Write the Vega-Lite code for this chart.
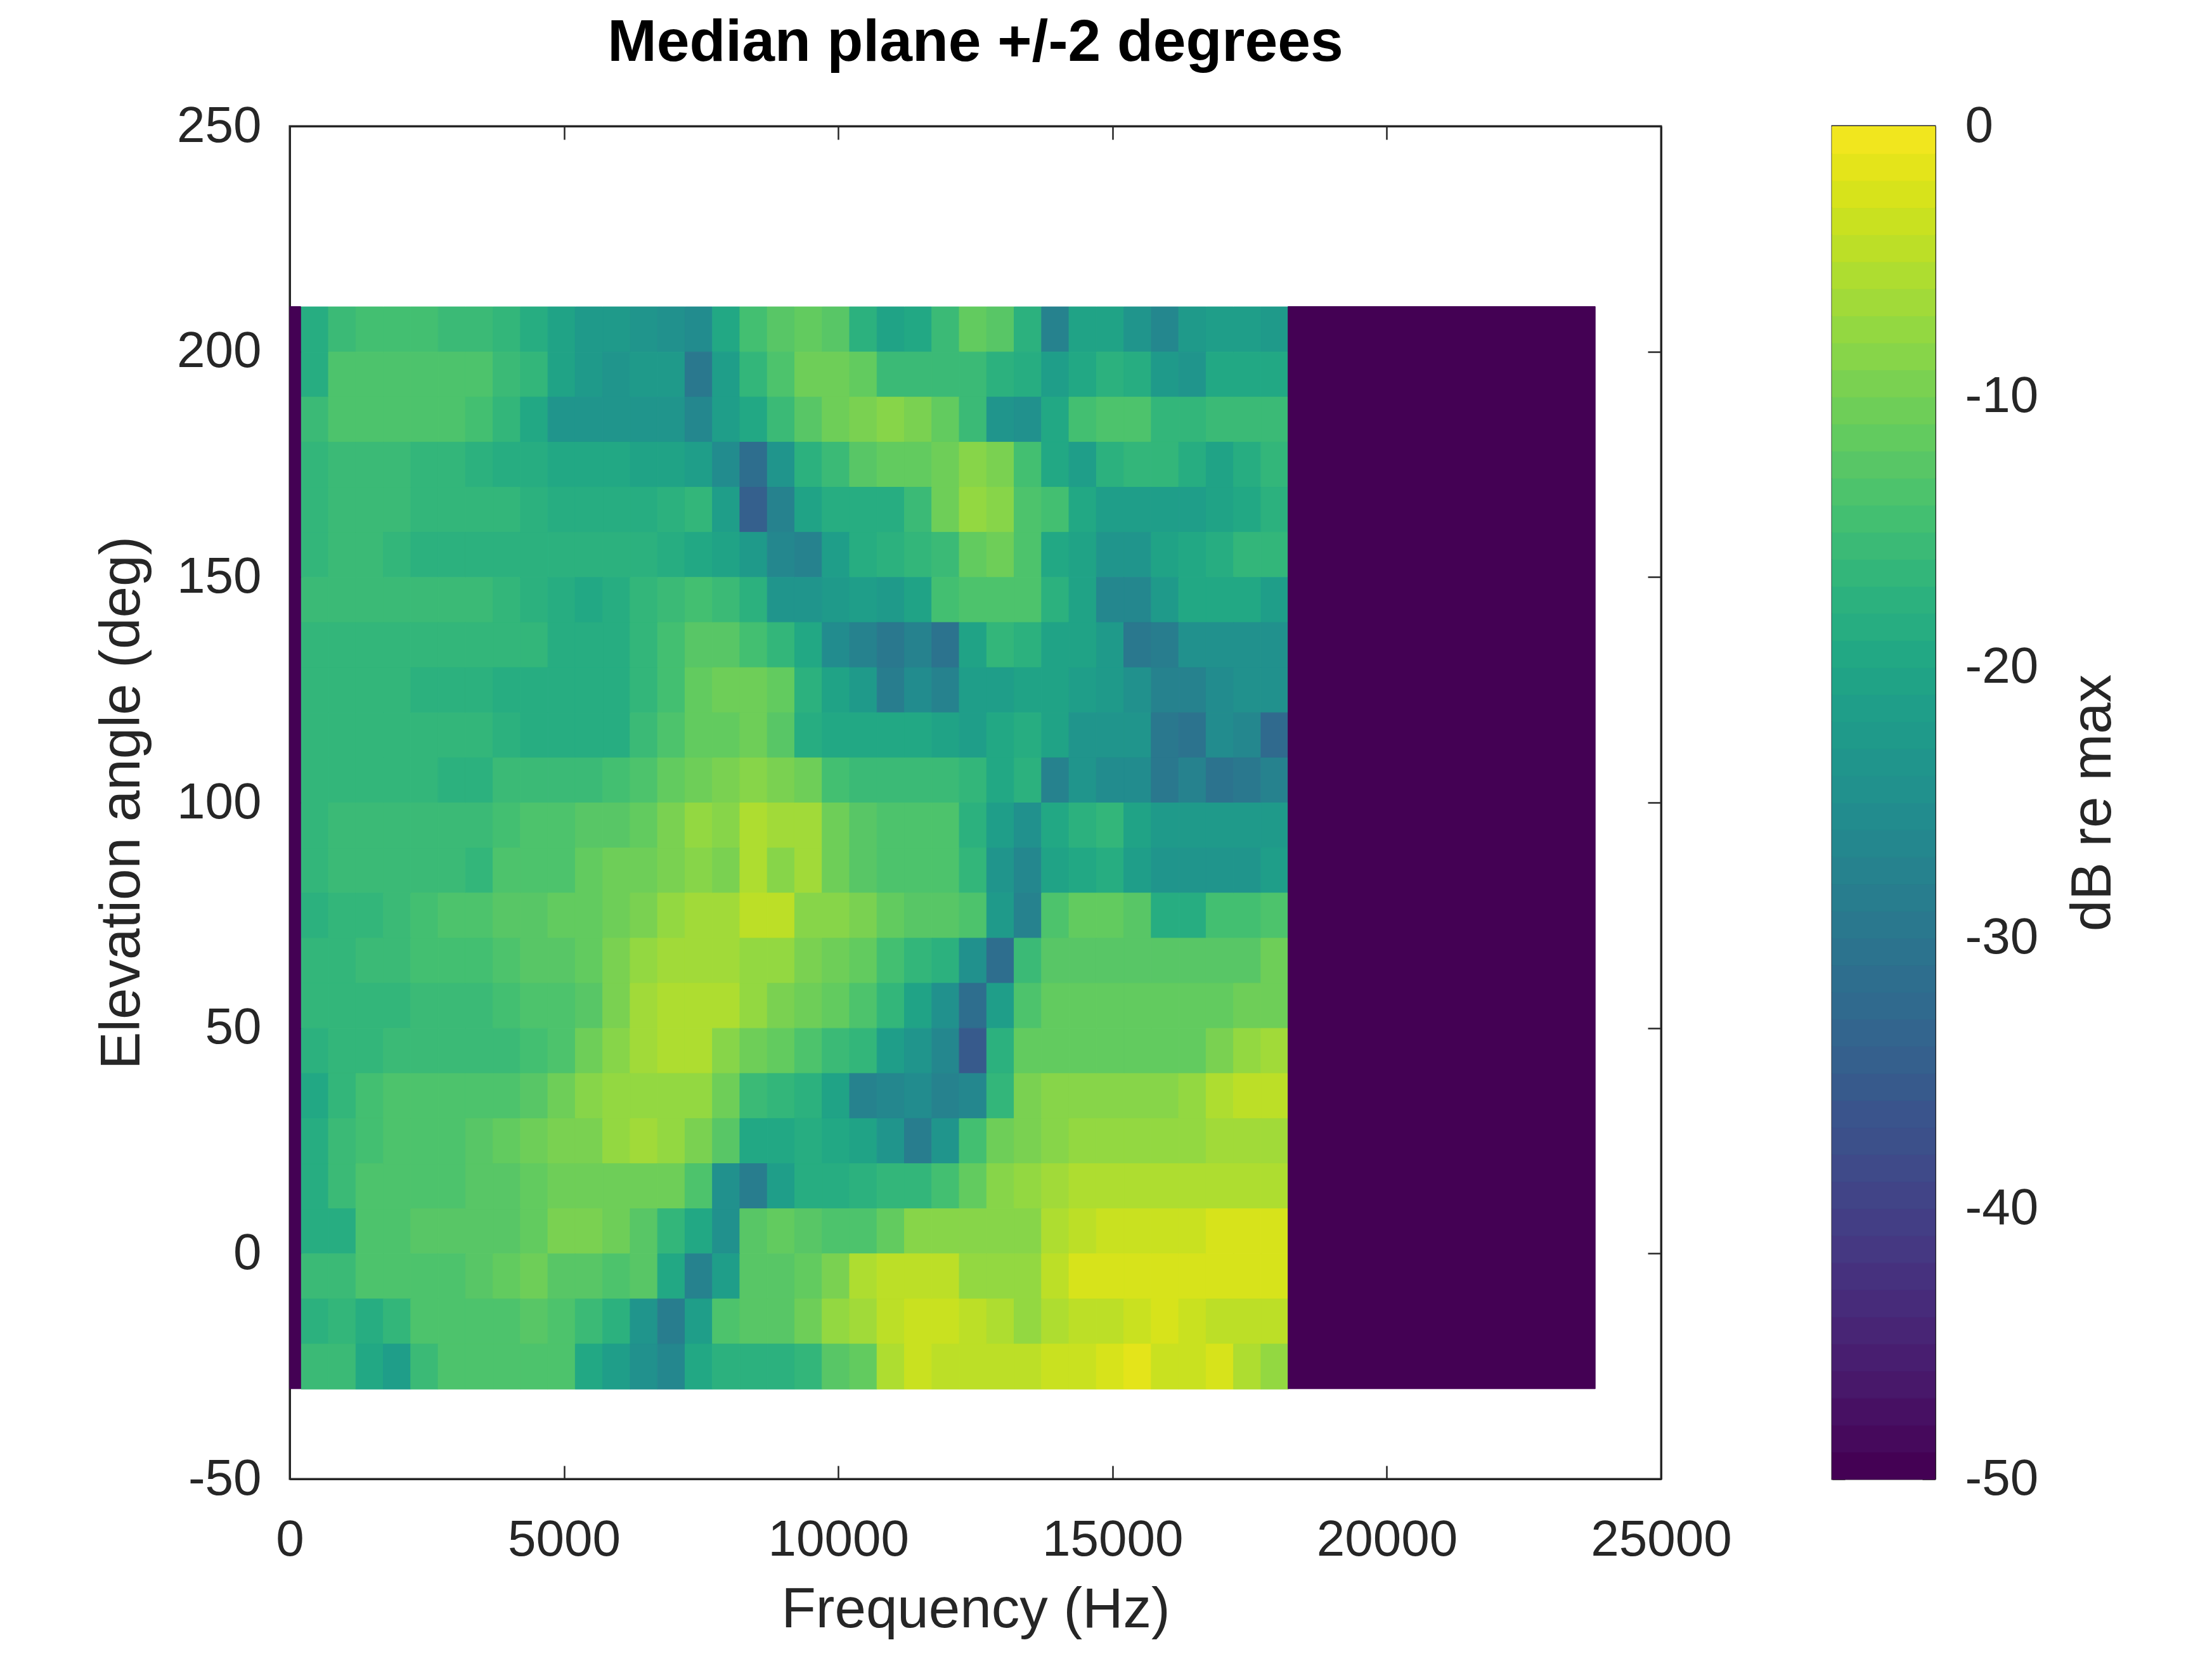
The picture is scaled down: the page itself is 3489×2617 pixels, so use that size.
{
  "$schema": "https://vega.github.io/schema/vega-lite/v6.json",
  "background": "white",
  "padding": {"left": 146, "top": 20, "right": 0, "bottom": 0},
  "bounds": "flush",
  "spacing": 270,
  "config": {
    "font": "Liberation Sans",
    "view": {"stroke": "#262626", "strokeWidth": 3},
    "axis": {
      "labelFont": "Liberation Sans",
      "labelFontSize": 80,
      "labelColor": "#262626",
      "labelLimit": 0,
      "labelExpr": "'' + datum.value",
      "titleFont": "Liberation Sans",
      "titleFontSize": 89,
      "titleFontWeight": "normal",
      "titleColor": "#262626",
      "tickColor": "#262626",
      "tickWidth": 2.5,
      "domainColor": "#262626",
      "domainWidth": 3,
      "grid": false,
      "zindex": 1,
      "labelFlush": false,
      "labelOverlap": false
    }
  },
  "hconcat": [
    {
      "width": 2163,
      "height": 2134,
      "title": {
        "text": "Median plane +/-2 degrees",
        "font": "Liberation Sans",
        "fontSize": 93,
        "fontWeight": "bold",
        "color": "black",
        "baseline": "alphabetic",
        "anchor": "middle",
        "offset": -30
      },
      "layer": [
        {
          "data": {"values": [
{"f":200,"e":200,"v":-19},{"f":700,"e":200,"v":-16},{"f":1200,"e":200,"v":-15},{"f":1700,"e":200,"v":-15},{"f":2200,"e":200,"v":-15},{"f":2700,"e":200,"v":-16},{"f":3200,"e":200,"v":-16},{"f":3700,"e":200,"v":-17},{"f":4200,"e":200,"v":-19},{"f":4700,"e":200,"v":-21},{"f":5200,"e":200,"v":-23},{"f":5700,"e":200,"v":-23},{"f":6200,"e":200,"v":-24},{"f":6700,"e":200,"v":-25},{"f":7200,"e":200,"v":-26},{"f":7700,"e":200,"v":-20},{"f":8200,"e":200,"v":-15},{"f":8700,"e":200,"v":-13},{"f":9200,"e":200,"v":-12},{"f":9700,"e":200,"v":-13},{"f":10200,"e":200,"v":-18},{"f":10700,"e":200,"v":-21},{"f":11200,"e":200,"v":-20},{"f":11700,"e":200,"v":-16},{"f":12200,"e":200,"v":-12},{"f":12700,"e":200,"v":-13},{"f":13200,"e":200,"v":-18},{"f":13700,"e":200,"v":-28},{"f":14200,"e":200,"v":-21},{"f":14700,"e":200,"v":-21},{"f":15200,"e":200,"v":-24},{"f":15700,"e":200,"v":-27},{"f":16200,"e":200,"v":-23},{"f":16700,"e":200,"v":-22},{"f":17200,"e":200,"v":-22},{"f":17700,"e":200,"v":-23},
{"f":200,"e":190,"v":-19},{"f":700,"e":190,"v":-14},{"f":1200,"e":190,"v":-14},{"f":1700,"e":190,"v":-14},{"f":2200,"e":190,"v":-14},{"f":2700,"e":190,"v":-14},{"f":3200,"e":190,"v":-14},{"f":3700,"e":190,"v":-16},{"f":4200,"e":190,"v":-17},{"f":4700,"e":190,"v":-21},{"f":5200,"e":190,"v":-23},{"f":5700,"e":190,"v":-24},{"f":6200,"e":190,"v":-23},{"f":6700,"e":190,"v":-23},{"f":7200,"e":190,"v":-30},{"f":7700,"e":190,"v":-22},{"f":8200,"e":190,"v":-17},{"f":8700,"e":190,"v":-14},{"f":9200,"e":190,"v":-11},{"f":9700,"e":190,"v":-11},{"f":10200,"e":190,"v":-12},{"f":10700,"e":190,"v":-16},{"f":11200,"e":190,"v":-16},{"f":11700,"e":190,"v":-16},{"f":12200,"e":190,"v":-16},{"f":12700,"e":190,"v":-18},{"f":13200,"e":190,"v":-19},{"f":13700,"e":190,"v":-22},{"f":14200,"e":190,"v":-20},{"f":14700,"e":190,"v":-18},{"f":15200,"e":190,"v":-19},{"f":15700,"e":190,"v":-23},{"f":16200,"e":190,"v":-24},{"f":16700,"e":190,"v":-20},{"f":17200,"e":190,"v":-20},{"f":17700,"e":190,"v":-20},
{"f":200,"e":180,"v":-16},{"f":700,"e":180,"v":-14},{"f":1200,"e":180,"v":-14},{"f":1700,"e":180,"v":-14},{"f":2200,"e":180,"v":-14},{"f":2700,"e":180,"v":-14},{"f":3200,"e":180,"v":-15},{"f":3700,"e":180,"v":-17},{"f":4200,"e":180,"v":-20},{"f":4700,"e":180,"v":-24},{"f":5200,"e":180,"v":-24},{"f":5700,"e":180,"v":-24},{"f":6200,"e":180,"v":-24},{"f":6700,"e":180,"v":-24},{"f":7200,"e":180,"v":-27},{"f":7700,"e":180,"v":-22},{"f":8200,"e":180,"v":-20},{"f":8700,"e":180,"v":-16},{"f":9200,"e":180,"v":-13},{"f":9700,"e":180,"v":-11},{"f":10200,"e":180,"v":-10},{"f":10700,"e":180,"v":-9},{"f":11200,"e":180,"v":-10},{"f":11700,"e":180,"v":-12},{"f":12200,"e":180,"v":-16},{"f":12700,"e":180,"v":-24},{"f":13200,"e":180,"v":-25},{"f":13700,"e":180,"v":-20},{"f":14200,"e":180,"v":-15},{"f":14700,"e":180,"v":-14},{"f":15200,"e":180,"v":-14},{"f":15700,"e":180,"v":-17},{"f":16200,"e":180,"v":-17},{"f":16700,"e":180,"v":-16},{"f":17200,"e":180,"v":-16},{"f":17700,"e":180,"v":-16},
{"f":200,"e":170,"v":-17},{"f":700,"e":170,"v":-16},{"f":1200,"e":170,"v":-16},{"f":1700,"e":170,"v":-16},{"f":2200,"e":170,"v":-17},{"f":2700,"e":170,"v":-17},{"f":3200,"e":170,"v":-18},{"f":3700,"e":170,"v":-19},{"f":4200,"e":170,"v":-19},{"f":4700,"e":170,"v":-20},{"f":5200,"e":170,"v":-20},{"f":5700,"e":170,"v":-20},{"f":6200,"e":170,"v":-21},{"f":6700,"e":170,"v":-21},{"f":7200,"e":170,"v":-22},{"f":7700,"e":170,"v":-26},{"f":8200,"e":170,"v":-32},{"f":8700,"e":170,"v":-24},{"f":9200,"e":170,"v":-18},{"f":9700,"e":170,"v":-16},{"f":10200,"e":170,"v":-13},{"f":10700,"e":170,"v":-12},{"f":11200,"e":170,"v":-12},{"f":11700,"e":170,"v":-11},{"f":12200,"e":170,"v":-9},{"f":12700,"e":170,"v":-10},{"f":13200,"e":170,"v":-15},{"f":13700,"e":170,"v":-20},{"f":14200,"e":170,"v":-22},{"f":14700,"e":170,"v":-18},{"f":15200,"e":170,"v":-17},{"f":15700,"e":170,"v":-17},{"f":16200,"e":170,"v":-19},{"f":16700,"e":170,"v":-21},{"f":17200,"e":170,"v":-19},{"f":17700,"e":170,"v":-17},
{"f":200,"e":160,"v":-17},{"f":700,"e":160,"v":-16},{"f":1200,"e":160,"v":-16},{"f":1700,"e":160,"v":-16},{"f":2200,"e":160,"v":-17},{"f":2700,"e":160,"v":-17},{"f":3200,"e":160,"v":-17},{"f":3700,"e":160,"v":-17},{"f":4200,"e":160,"v":-18},{"f":4700,"e":160,"v":-19},{"f":5200,"e":160,"v":-19},{"f":5700,"e":160,"v":-19},{"f":6200,"e":160,"v":-19},{"f":6700,"e":160,"v":-18},{"f":7200,"e":160,"v":-17},{"f":7700,"e":160,"v":-22},{"f":8200,"e":160,"v":-35},{"f":8700,"e":160,"v":-28},{"f":9200,"e":160,"v":-21},{"f":9700,"e":160,"v":-19},{"f":10200,"e":160,"v":-19},{"f":10700,"e":160,"v":-19},{"f":11200,"e":160,"v":-16},{"f":11700,"e":160,"v":-11},{"f":12200,"e":160,"v":-8},{"f":12700,"e":160,"v":-9},{"f":13200,"e":160,"v":-14},{"f":13700,"e":160,"v":-15},{"f":14200,"e":160,"v":-20},{"f":14700,"e":160,"v":-22},{"f":15200,"e":160,"v":-22},{"f":15700,"e":160,"v":-22},{"f":16200,"e":160,"v":-22},{"f":16700,"e":160,"v":-21},{"f":17200,"e":160,"v":-20},{"f":17700,"e":160,"v":-18},
{"f":200,"e":150,"v":-17},{"f":700,"e":150,"v":-16},{"f":1200,"e":150,"v":-16},{"f":1700,"e":150,"v":-17},{"f":2200,"e":150,"v":-18},{"f":2700,"e":150,"v":-18},{"f":3200,"e":150,"v":-18},{"f":3700,"e":150,"v":-18},{"f":4200,"e":150,"v":-18},{"f":4700,"e":150,"v":-18},{"f":5200,"e":150,"v":-18},{"f":5700,"e":150,"v":-18},{"f":6200,"e":150,"v":-18},{"f":6700,"e":150,"v":-19},{"f":7200,"e":150,"v":-20},{"f":7700,"e":150,"v":-21},{"f":8200,"e":150,"v":-23},{"f":8700,"e":150,"v":-27},{"f":9200,"e":150,"v":-28},{"f":9700,"e":150,"v":-22},{"f":10200,"e":150,"v":-19},{"f":10700,"e":150,"v":-18},{"f":11200,"e":150,"v":-17},{"f":11700,"e":150,"v":-16},{"f":12200,"e":150,"v":-12},{"f":12700,"e":150,"v":-11},{"f":13200,"e":150,"v":-14},{"f":13700,"e":150,"v":-20},{"f":14200,"e":150,"v":-21},{"f":14700,"e":150,"v":-24},{"f":15200,"e":150,"v":-24},{"f":15700,"e":150,"v":-21},{"f":16200,"e":150,"v":-20},{"f":16700,"e":150,"v":-19},{"f":17200,"e":150,"v":-17},{"f":17700,"e":150,"v":-17},
{"f":200,"e":140,"v":-16},{"f":700,"e":140,"v":-16},{"f":1200,"e":140,"v":-16},{"f":1700,"e":140,"v":-16},{"f":2200,"e":140,"v":-16},{"f":2700,"e":140,"v":-16},{"f":3200,"e":140,"v":-16},{"f":3700,"e":140,"v":-17},{"f":4200,"e":140,"v":-18},{"f":4700,"e":140,"v":-19},{"f":5200,"e":140,"v":-20},{"f":5700,"e":140,"v":-19},{"f":6200,"e":140,"v":-17},{"f":6700,"e":140,"v":-16},{"f":7200,"e":140,"v":-15},{"f":7700,"e":140,"v":-16},{"f":8200,"e":140,"v":-18},{"f":8700,"e":140,"v":-24},{"f":9200,"e":140,"v":-24},{"f":9700,"e":140,"v":-23},{"f":10200,"e":140,"v":-22},{"f":10700,"e":140,"v":-23},{"f":11200,"e":140,"v":-21},{"f":11700,"e":140,"v":-15},{"f":12200,"e":140,"v":-14},{"f":12700,"e":140,"v":-14},{"f":13200,"e":140,"v":-14},{"f":13700,"e":140,"v":-18},{"f":14200,"e":140,"v":-21},{"f":14700,"e":140,"v":-27},{"f":15200,"e":140,"v":-27},{"f":15700,"e":140,"v":-23},{"f":16200,"e":140,"v":-20},{"f":16700,"e":140,"v":-20},{"f":17200,"e":140,"v":-20},{"f":17700,"e":140,"v":-22},
{"f":200,"e":130,"v":-17},{"f":700,"e":130,"v":-17},{"f":1200,"e":130,"v":-17},{"f":1700,"e":130,"v":-17},{"f":2200,"e":130,"v":-17},{"f":2700,"e":130,"v":-17},{"f":3200,"e":130,"v":-17},{"f":3700,"e":130,"v":-17},{"f":4200,"e":130,"v":-17},{"f":4700,"e":130,"v":-19},{"f":5200,"e":130,"v":-19},{"f":5700,"e":130,"v":-19},{"f":6200,"e":130,"v":-17},{"f":6700,"e":130,"v":-15},{"f":7200,"e":130,"v":-13},{"f":7700,"e":130,"v":-13},{"f":8200,"e":130,"v":-15},{"f":8700,"e":130,"v":-17},{"f":9200,"e":130,"v":-20},{"f":9700,"e":130,"v":-26},{"f":10200,"e":130,"v":-28},{"f":10700,"e":130,"v":-30},{"f":11200,"e":130,"v":-28},{"f":11700,"e":130,"v":-31},{"f":12200,"e":130,"v":-21},{"f":12700,"e":130,"v":-17},{"f":13200,"e":130,"v":-18},{"f":13700,"e":130,"v":-21},{"f":14200,"e":130,"v":-21},{"f":14700,"e":130,"v":-23},{"f":15200,"e":130,"v":-30},{"f":15700,"e":130,"v":-29},{"f":16200,"e":130,"v":-25},{"f":16700,"e":130,"v":-25},{"f":17200,"e":130,"v":-25},{"f":17700,"e":130,"v":-25},
{"f":200,"e":120,"v":-17},{"f":700,"e":120,"v":-17},{"f":1200,"e":120,"v":-17},{"f":1700,"e":120,"v":-17},{"f":2200,"e":120,"v":-18},{"f":2700,"e":120,"v":-18},{"f":3200,"e":120,"v":-18},{"f":3700,"e":120,"v":-19},{"f":4200,"e":120,"v":-19},{"f":4700,"e":120,"v":-19},{"f":5200,"e":120,"v":-19},{"f":5700,"e":120,"v":-19},{"f":6200,"e":120,"v":-17},{"f":6700,"e":120,"v":-15},{"f":7200,"e":120,"v":-12},{"f":7700,"e":120,"v":-11},{"f":8200,"e":120,"v":-11},{"f":8700,"e":120,"v":-12},{"f":9200,"e":120,"v":-18},{"f":9700,"e":120,"v":-21},{"f":10200,"e":120,"v":-23},{"f":10700,"e":120,"v":-29},{"f":11200,"e":120,"v":-26},{"f":11700,"e":120,"v":-28},{"f":12200,"e":120,"v":-22},{"f":12700,"e":120,"v":-22},{"f":13200,"e":120,"v":-21},{"f":13700,"e":120,"v":-21},{"f":14200,"e":120,"v":-22},{"f":14700,"e":120,"v":-23},{"f":15200,"e":120,"v":-25},{"f":15700,"e":120,"v":-28},{"f":16200,"e":120,"v":-28},{"f":16700,"e":120,"v":-26},{"f":17200,"e":120,"v":-25},{"f":17700,"e":120,"v":-25},
{"f":200,"e":110,"v":-17},{"f":700,"e":110,"v":-17},{"f":1200,"e":110,"v":-17},{"f":1700,"e":110,"v":-17},{"f":2200,"e":110,"v":-17},{"f":2700,"e":110,"v":-17},{"f":3200,"e":110,"v":-17},{"f":3700,"e":110,"v":-18},{"f":4200,"e":110,"v":-19},{"f":4700,"e":110,"v":-19},{"f":5200,"e":110,"v":-19},{"f":5700,"e":110,"v":-19},{"f":6200,"e":110,"v":-16},{"f":6700,"e":110,"v":-14},{"f":7200,"e":110,"v":-12},{"f":7700,"e":110,"v":-12},{"f":8200,"e":110,"v":-11},{"f":8700,"e":110,"v":-13},{"f":9200,"e":110,"v":-19},{"f":9700,"e":110,"v":-20},{"f":10200,"e":110,"v":-20},{"f":10700,"e":110,"v":-20},{"f":11200,"e":110,"v":-20},{"f":11700,"e":110,"v":-21},{"f":12200,"e":110,"v":-22},{"f":12700,"e":110,"v":-20},{"f":13200,"e":110,"v":-19},{"f":13700,"e":110,"v":-21},{"f":14200,"e":110,"v":-24},{"f":14700,"e":110,"v":-24},{"f":15200,"e":110,"v":-24},{"f":15700,"e":110,"v":-30},{"f":16200,"e":110,"v":-31},{"f":16700,"e":110,"v":-26},{"f":17200,"e":110,"v":-27},{"f":17700,"e":110,"v":-33},
{"f":200,"e":100,"v":-17},{"f":700,"e":100,"v":-17},{"f":1200,"e":100,"v":-17},{"f":1700,"e":100,"v":-17},{"f":2200,"e":100,"v":-17},{"f":2700,"e":100,"v":-18},{"f":3200,"e":100,"v":-18},{"f":3700,"e":100,"v":-16},{"f":4200,"e":100,"v":-16},{"f":4700,"e":100,"v":-16},{"f":5200,"e":100,"v":-16},{"f":5700,"e":100,"v":-15},{"f":6200,"e":100,"v":-14},{"f":6700,"e":100,"v":-12},{"f":7200,"e":100,"v":-11},{"f":7700,"e":100,"v":-10},{"f":8200,"e":100,"v":-9},{"f":8700,"e":100,"v":-10},{"f":9200,"e":100,"v":-11},{"f":9700,"e":100,"v":-15},{"f":10200,"e":100,"v":-16},{"f":10700,"e":100,"v":-16},{"f":11200,"e":100,"v":-16},{"f":11700,"e":100,"v":-16},{"f":12200,"e":100,"v":-17},{"f":12700,"e":100,"v":-20},{"f":13200,"e":100,"v":-18},{"f":13700,"e":100,"v":-28},{"f":14200,"e":100,"v":-24},{"f":14700,"e":100,"v":-26},{"f":15200,"e":100,"v":-26},{"f":15700,"e":100,"v":-30},{"f":16200,"e":100,"v":-28},{"f":16700,"e":100,"v":-31},{"f":17200,"e":100,"v":-30},{"f":17700,"e":100,"v":-28},
{"f":200,"e":90,"v":-17},{"f":700,"e":90,"v":-16},{"f":1200,"e":90,"v":-16},{"f":1700,"e":90,"v":-16},{"f":2200,"e":90,"v":-16},{"f":2700,"e":90,"v":-16},{"f":3200,"e":90,"v":-16},{"f":3700,"e":90,"v":-15},{"f":4200,"e":90,"v":-14},{"f":4700,"e":90,"v":-14},{"f":5200,"e":90,"v":-13},{"f":5700,"e":90,"v":-13},{"f":6200,"e":90,"v":-12},{"f":6700,"e":90,"v":-10},{"f":7200,"e":90,"v":-8},{"f":7700,"e":90,"v":-9},{"f":8200,"e":90,"v":-6},{"f":8700,"e":90,"v":-7},{"f":9200,"e":90,"v":-7},{"f":9700,"e":90,"v":-11},{"f":10200,"e":90,"v":-13},{"f":10700,"e":90,"v":-14},{"f":11200,"e":90,"v":-14},{"f":11700,"e":90,"v":-14},{"f":12200,"e":90,"v":-18},{"f":12700,"e":90,"v":-22},{"f":13200,"e":90,"v":-25},{"f":13700,"e":90,"v":-20},{"f":14200,"e":90,"v":-18},{"f":14700,"e":90,"v":-17},{"f":15200,"e":90,"v":-21},{"f":15700,"e":90,"v":-23},{"f":16200,"e":90,"v":-23},{"f":16700,"e":90,"v":-23},{"f":17200,"e":90,"v":-23},{"f":17700,"e":90,"v":-23},
{"f":200,"e":80,"v":-17},{"f":700,"e":80,"v":-16},{"f":1200,"e":80,"v":-16},{"f":1700,"e":80,"v":-16},{"f":2200,"e":80,"v":-16},{"f":2700,"e":80,"v":-16},{"f":3200,"e":80,"v":-17},{"f":3700,"e":80,"v":-14},{"f":4200,"e":80,"v":-14},{"f":4700,"e":80,"v":-14},{"f":5200,"e":80,"v":-12},{"f":5700,"e":80,"v":-11},{"f":6200,"e":80,"v":-11},{"f":6700,"e":80,"v":-10},{"f":7200,"e":80,"v":-9},{"f":7700,"e":80,"v":-10},{"f":8200,"e":80,"v":-6},{"f":8700,"e":80,"v":-9},{"f":9200,"e":80,"v":-7},{"f":9700,"e":80,"v":-11},{"f":10200,"e":80,"v":-13},{"f":10700,"e":80,"v":-14},{"f":11200,"e":80,"v":-14},{"f":11700,"e":80,"v":-14},{"f":12200,"e":80,"v":-17},{"f":12700,"e":80,"v":-24},{"f":13200,"e":80,"v":-27},{"f":13700,"e":80,"v":-21},{"f":14200,"e":80,"v":-20},{"f":14700,"e":80,"v":-19},{"f":15200,"e":80,"v":-22},{"f":15700,"e":80,"v":-24},{"f":16200,"e":80,"v":-24},{"f":16700,"e":80,"v":-24},{"f":17200,"e":80,"v":-24},{"f":17700,"e":80,"v":-22},
{"f":200,"e":70,"v":-18},{"f":700,"e":70,"v":-17},{"f":1200,"e":70,"v":-17},{"f":1700,"e":70,"v":-16},{"f":2200,"e":70,"v":-15},{"f":2700,"e":70,"v":-14},{"f":3200,"e":70,"v":-14},{"f":3700,"e":70,"v":-13},{"f":4200,"e":70,"v":-13},{"f":4700,"e":70,"v":-12},{"f":5200,"e":70,"v":-12},{"f":5700,"e":70,"v":-11},{"f":6200,"e":70,"v":-10},{"f":6700,"e":70,"v":-8},{"f":7200,"e":70,"v":-7},{"f":7700,"e":70,"v":-7},{"f":8200,"e":70,"v":-5},{"f":8700,"e":70,"v":-5},{"f":9200,"e":70,"v":-9},{"f":9700,"e":70,"v":-9},{"f":10200,"e":70,"v":-10},{"f":10700,"e":70,"v":-12},{"f":11200,"e":70,"v":-13},{"f":11700,"e":70,"v":-13},{"f":12200,"e":70,"v":-14},{"f":12700,"e":70,"v":-23},{"f":13200,"e":70,"v":-28},{"f":13700,"e":70,"v":-14},{"f":14200,"e":70,"v":-12},{"f":14700,"e":70,"v":-12},{"f":15200,"e":70,"v":-13},{"f":15700,"e":70,"v":-19},{"f":16200,"e":70,"v":-19},{"f":16700,"e":70,"v":-15},{"f":17200,"e":70,"v":-15},{"f":17700,"e":70,"v":-14},
{"f":200,"e":60,"v":-17},{"f":700,"e":60,"v":-17},{"f":1200,"e":60,"v":-16},{"f":1700,"e":60,"v":-16},{"f":2200,"e":60,"v":-15},{"f":2700,"e":60,"v":-15},{"f":3200,"e":60,"v":-15},{"f":3700,"e":60,"v":-14},{"f":4200,"e":60,"v":-13},{"f":4700,"e":60,"v":-13},{"f":5200,"e":60,"v":-12},{"f":5700,"e":60,"v":-10},{"f":6200,"e":60,"v":-8},{"f":6700,"e":60,"v":-7},{"f":7200,"e":60,"v":-7},{"f":7700,"e":60,"v":-7},{"f":8200,"e":60,"v":-8},{"f":8700,"e":60,"v":-8},{"f":9200,"e":60,"v":-10},{"f":9700,"e":60,"v":-11},{"f":10200,"e":60,"v":-12},{"f":10700,"e":60,"v":-15},{"f":11200,"e":60,"v":-17},{"f":11700,"e":60,"v":-18},{"f":12200,"e":60,"v":-25},{"f":12700,"e":60,"v":-32},{"f":13200,"e":60,"v":-16},{"f":13700,"e":60,"v":-13},{"f":14200,"e":60,"v":-13},{"f":14700,"e":60,"v":-13},{"f":15200,"e":60,"v":-13},{"f":15700,"e":60,"v":-13},{"f":16200,"e":60,"v":-13},{"f":16700,"e":60,"v":-13},{"f":17200,"e":60,"v":-13},{"f":17700,"e":60,"v":-11},
{"f":200,"e":50,"v":-17},{"f":700,"e":50,"v":-17},{"f":1200,"e":50,"v":-17},{"f":1700,"e":50,"v":-17},{"f":2200,"e":50,"v":-16},{"f":2700,"e":50,"v":-16},{"f":3200,"e":50,"v":-16},{"f":3700,"e":50,"v":-15},{"f":4200,"e":50,"v":-14},{"f":4700,"e":50,"v":-14},{"f":5200,"e":50,"v":-13},{"f":5700,"e":50,"v":-10},{"f":6200,"e":50,"v":-7},{"f":6700,"e":50,"v":-6},{"f":7200,"e":50,"v":-6},{"f":7700,"e":50,"v":-6},{"f":8200,"e":50,"v":-8},{"f":8700,"e":50,"v":-10},{"f":9200,"e":50,"v":-11},{"f":9700,"e":50,"v":-12},{"f":10200,"e":50,"v":-14},{"f":10700,"e":50,"v":-17},{"f":11200,"e":50,"v":-21},{"f":11700,"e":50,"v":-25},{"f":12200,"e":50,"v":-32},{"f":12700,"e":50,"v":-22},{"f":13200,"e":50,"v":-14},{"f":13700,"e":50,"v":-12},{"f":14200,"e":50,"v":-12},{"f":14700,"e":50,"v":-12},{"f":15200,"e":50,"v":-12},{"f":15700,"e":50,"v":-12},{"f":16200,"e":50,"v":-12},{"f":16700,"e":50,"v":-12},{"f":17200,"e":50,"v":-11},{"f":17700,"e":50,"v":-11},
{"f":200,"e":40,"v":-18},{"f":700,"e":40,"v":-17},{"f":1200,"e":40,"v":-17},{"f":1700,"e":40,"v":-16},{"f":2200,"e":40,"v":-16},{"f":2700,"e":40,"v":-16},{"f":3200,"e":40,"v":-16},{"f":3700,"e":40,"v":-16},{"f":4200,"e":40,"v":-15},{"f":4700,"e":40,"v":-14},{"f":5200,"e":40,"v":-11},{"f":5700,"e":40,"v":-9},{"f":6200,"e":40,"v":-7},{"f":6700,"e":40,"v":-6},{"f":7200,"e":40,"v":-6},{"f":7700,"e":40,"v":-9},{"f":8200,"e":40,"v":-11},{"f":8700,"e":40,"v":-12},{"f":9200,"e":40,"v":-14},{"f":9700,"e":40,"v":-16},{"f":10200,"e":40,"v":-17},{"f":10700,"e":40,"v":-22},{"f":11200,"e":40,"v":-24},{"f":11700,"e":40,"v":-27},{"f":12200,"e":40,"v":-36},{"f":12700,"e":40,"v":-18},{"f":13200,"e":40,"v":-12},{"f":13700,"e":40,"v":-12},{"f":14200,"e":40,"v":-12},{"f":14700,"e":40,"v":-12},{"f":15200,"e":40,"v":-12},{"f":15700,"e":40,"v":-12},{"f":16200,"e":40,"v":-12},{"f":16700,"e":40,"v":-10},{"f":17200,"e":40,"v":-8},{"f":17700,"e":40,"v":-7},
{"f":200,"e":30,"v":-20},{"f":700,"e":30,"v":-17},{"f":1200,"e":30,"v":-15},{"f":1700,"e":30,"v":-14},{"f":2200,"e":30,"v":-14},{"f":2700,"e":30,"v":-14},{"f":3200,"e":30,"v":-14},{"f":3700,"e":30,"v":-14},{"f":4200,"e":30,"v":-13},{"f":4700,"e":30,"v":-11},{"f":5200,"e":30,"v":-9},{"f":5700,"e":30,"v":-8},{"f":6200,"e":30,"v":-8},{"f":6700,"e":30,"v":-8},{"f":7200,"e":30,"v":-8},{"f":7700,"e":30,"v":-11},{"f":8200,"e":30,"v":-16},{"f":8700,"e":30,"v":-17},{"f":9200,"e":30,"v":-18},{"f":9700,"e":30,"v":-21},{"f":10200,"e":30,"v":-28},{"f":10700,"e":30,"v":-27},{"f":11200,"e":30,"v":-26},{"f":11700,"e":30,"v":-28},{"f":12200,"e":30,"v":-27},{"f":12700,"e":30,"v":-17},{"f":13200,"e":30,"v":-10},{"f":13700,"e":30,"v":-9},{"f":14200,"e":30,"v":-9},{"f":14700,"e":30,"v":-9},{"f":15200,"e":30,"v":-9},{"f":15700,"e":30,"v":-9},{"f":16200,"e":30,"v":-8},{"f":16700,"e":30,"v":-6},{"f":17200,"e":30,"v":-5},{"f":17700,"e":30,"v":-5},
{"f":200,"e":20,"v":-19},{"f":700,"e":20,"v":-16},{"f":1200,"e":20,"v":-15},{"f":1700,"e":20,"v":-14},{"f":2200,"e":20,"v":-14},{"f":2700,"e":20,"v":-14},{"f":3200,"e":20,"v":-13},{"f":3700,"e":20,"v":-12},{"f":4200,"e":20,"v":-11},{"f":4700,"e":20,"v":-10},{"f":5200,"e":20,"v":-10},{"f":5700,"e":20,"v":-8},{"f":6200,"e":20,"v":-7},{"f":6700,"e":20,"v":-8},{"f":7200,"e":20,"v":-10},{"f":7700,"e":20,"v":-13},{"f":8200,"e":20,"v":-20},{"f":8700,"e":20,"v":-20},{"f":9200,"e":20,"v":-19},{"f":9700,"e":20,"v":-20},{"f":10200,"e":20,"v":-21},{"f":10700,"e":20,"v":-24},{"f":11200,"e":20,"v":-29},{"f":11700,"e":20,"v":-24},{"f":12200,"e":20,"v":-15},{"f":12700,"e":20,"v":-11},{"f":13200,"e":20,"v":-10},{"f":13700,"e":20,"v":-9},{"f":14200,"e":20,"v":-8},{"f":14700,"e":20,"v":-8},{"f":15200,"e":20,"v":-8},{"f":15700,"e":20,"v":-8},{"f":16200,"e":20,"v":-8},{"f":16700,"e":20,"v":-7},{"f":17200,"e":20,"v":-7},{"f":17700,"e":20,"v":-7},
{"f":200,"e":10,"v":-19},{"f":700,"e":10,"v":-16},{"f":1200,"e":10,"v":-14},{"f":1700,"e":10,"v":-14},{"f":2200,"e":10,"v":-14},{"f":2700,"e":10,"v":-14},{"f":3200,"e":10,"v":-13},{"f":3700,"e":10,"v":-13},{"f":4200,"e":10,"v":-12},{"f":4700,"e":10,"v":-11},{"f":5200,"e":10,"v":-11},{"f":5700,"e":10,"v":-11},{"f":6200,"e":10,"v":-11},{"f":6700,"e":10,"v":-11},{"f":7200,"e":10,"v":-14},{"f":7700,"e":10,"v":-25},{"f":8200,"e":10,"v":-29},{"f":8700,"e":10,"v":-22},{"f":9200,"e":10,"v":-19},{"f":9700,"e":10,"v":-19},{"f":10200,"e":10,"v":-18},{"f":10700,"e":10,"v":-17},{"f":11200,"e":10,"v":-17},{"f":11700,"e":10,"v":-15},{"f":12200,"e":10,"v":-12},{"f":12700,"e":10,"v":-9},{"f":13200,"e":10,"v":-8},{"f":13700,"e":10,"v":-7},{"f":14200,"e":10,"v":-6},{"f":14700,"e":10,"v":-6},{"f":15200,"e":10,"v":-6},{"f":15700,"e":10,"v":-6},{"f":16200,"e":10,"v":-6},{"f":16700,"e":10,"v":-6},{"f":17200,"e":10,"v":-6},{"f":17700,"e":10,"v":-6},
{"f":200,"e":0,"v":-19},{"f":700,"e":0,"v":-19},{"f":1200,"e":0,"v":-14},{"f":1700,"e":0,"v":-14},{"f":2200,"e":0,"v":-13},{"f":2700,"e":0,"v":-13},{"f":3200,"e":0,"v":-13},{"f":3700,"e":0,"v":-13},{"f":4200,"e":0,"v":-12},{"f":4700,"e":0,"v":-10},{"f":5200,"e":0,"v":-10},{"f":5700,"e":0,"v":-11},{"f":6200,"e":0,"v":-13},{"f":6700,"e":0,"v":-17},{"f":7200,"e":0,"v":-20},{"f":7700,"e":0,"v":-25},{"f":8200,"e":0,"v":-13},{"f":8700,"e":0,"v":-12},{"f":9200,"e":0,"v":-13},{"f":9700,"e":0,"v":-14},{"f":10200,"e":0,"v":-14},{"f":10700,"e":0,"v":-12},{"f":11200,"e":0,"v":-9},{"f":11700,"e":0,"v":-9},{"f":12200,"e":0,"v":-9},{"f":12700,"e":0,"v":-9},{"f":13200,"e":0,"v":-9},{"f":13700,"e":0,"v":-6},{"f":14200,"e":0,"v":-5},{"f":14700,"e":0,"v":-4},{"f":15200,"e":0,"v":-4},{"f":15700,"e":0,"v":-4},{"f":16200,"e":0,"v":-4},{"f":16700,"e":0,"v":-3},{"f":17200,"e":0,"v":-3},{"f":17700,"e":0,"v":-3},
{"f":200,"e":-10,"v":-16},{"f":700,"e":-10,"v":-16},{"f":1200,"e":-10,"v":-14},{"f":1700,"e":-10,"v":-14},{"f":2200,"e":-10,"v":-14},{"f":2700,"e":-10,"v":-14},{"f":3200,"e":-10,"v":-13},{"f":3700,"e":-10,"v":-12},{"f":4200,"e":-10,"v":-11},{"f":4700,"e":-10,"v":-13},{"f":5200,"e":-10,"v":-13},{"f":5700,"e":-10,"v":-14},{"f":6200,"e":-10,"v":-13},{"f":6700,"e":-10,"v":-20},{"f":7200,"e":-10,"v":-28},{"f":7700,"e":-10,"v":-22},{"f":8200,"e":-10,"v":-13},{"f":8700,"e":-10,"v":-13},{"f":9200,"e":-10,"v":-12},{"f":9700,"e":-10,"v":-10},{"f":10200,"e":-10,"v":-6},{"f":10700,"e":-10,"v":-5},{"f":11200,"e":-10,"v":-5},{"f":11700,"e":-10,"v":-5},{"f":12200,"e":-10,"v":-8},{"f":12700,"e":-10,"v":-8},{"f":13200,"e":-10,"v":-8},{"f":13700,"e":-10,"v":-5},{"f":14200,"e":-10,"v":-3},{"f":14700,"e":-10,"v":-3},{"f":15200,"e":-10,"v":-3},{"f":15700,"e":-10,"v":-3},{"f":16200,"e":-10,"v":-3},{"f":16700,"e":-10,"v":-3},{"f":17200,"e":-10,"v":-3},{"f":17700,"e":-10,"v":-3},
{"f":200,"e":-20,"v":-18},{"f":700,"e":-20,"v":-17},{"f":1200,"e":-20,"v":-19},{"f":1700,"e":-20,"v":-17},{"f":2200,"e":-20,"v":-14},{"f":2700,"e":-20,"v":-14},{"f":3200,"e":-20,"v":-14},{"f":3700,"e":-20,"v":-14},{"f":4200,"e":-20,"v":-13},{"f":4700,"e":-20,"v":-14},{"f":5200,"e":-20,"v":-16},{"f":5700,"e":-20,"v":-18},{"f":6200,"e":-20,"v":-24},{"f":6700,"e":-20,"v":-29},{"f":7200,"e":-20,"v":-22},{"f":7700,"e":-20,"v":-14},{"f":8200,"e":-20,"v":-13},{"f":8700,"e":-20,"v":-13},{"f":9200,"e":-20,"v":-11},{"f":9700,"e":-20,"v":-8},{"f":10200,"e":-20,"v":-7},{"f":10700,"e":-20,"v":-5},{"f":11200,"e":-20,"v":-4},{"f":11700,"e":-20,"v":-4},{"f":12200,"e":-20,"v":-5},{"f":12700,"e":-20,"v":-6},{"f":13200,"e":-20,"v":-8},{"f":13700,"e":-20,"v":-6},{"f":14200,"e":-20,"v":-5},{"f":14700,"e":-20,"v":-5},{"f":15200,"e":-20,"v":-4},{"f":15700,"e":-20,"v":-3},{"f":16200,"e":-20,"v":-4},{"f":16700,"e":-20,"v":-5},{"f":17200,"e":-20,"v":-5},{"f":17700,"e":-20,"v":-5},
{"f":200,"e":-30,"v":-16},{"f":700,"e":-30,"v":-16},{"f":1200,"e":-30,"v":-20},{"f":1700,"e":-30,"v":-22},{"f":2200,"e":-30,"v":-16},{"f":2700,"e":-30,"v":-14},{"f":3200,"e":-30,"v":-14},{"f":3700,"e":-30,"v":-14},{"f":4200,"e":-30,"v":-14},{"f":4700,"e":-30,"v":-14},{"f":5200,"e":-30,"v":-20},{"f":5700,"e":-30,"v":-22},{"f":6200,"e":-30,"v":-25},{"f":6700,"e":-30,"v":-27},{"f":7200,"e":-30,"v":-20},{"f":7700,"e":-30,"v":-18},{"f":8200,"e":-30,"v":-18},{"f":8700,"e":-30,"v":-18},{"f":9200,"e":-30,"v":-17},{"f":9700,"e":-30,"v":-13},{"f":10200,"e":-30,"v":-12},{"f":10700,"e":-30,"v":-6},{"f":11200,"e":-30,"v":-4},{"f":11700,"e":-30,"v":-5},{"f":12200,"e":-30,"v":-5},{"f":12700,"e":-30,"v":-5},{"f":13200,"e":-30,"v":-5},{"f":13700,"e":-30,"v":-4},{"f":14200,"e":-30,"v":-4},{"f":14700,"e":-30,"v":-3},{"f":15200,"e":-30,"v":-2},{"f":15700,"e":-30,"v":-4},{"f":16200,"e":-30,"v":-4},{"f":16700,"e":-30,"v":-3},{"f":17200,"e":-30,"v":-6},{"f":17700,"e":-30,"v":-8}
          ]},
          "mark": {"type": "rect", "binSpacing": 0, "strokeWidth": 1},
          "encoding": {
            "x": {
              "field": "f", "type": "quantitative",
              "bin": {"binned": true, "step": 500},
              "scale": {"domain": [0, 25000], "nice": false, "zero": false},
              "axis": {
                "orient": "bottom", "title": "Frequency (Hz)",
                "values": [0, 5000, 10000, 15000, 20000, 25000],
                "tickSize": -21, "labelPadding": 78,
                "titleY": 233, "titleBaseline": "alphabetic"
              }
            },
            "y": {
              "field": "e", "type": "quantitative",
              "bin": {"binned": true, "step": 10},
              "scale": {"domain": [-50, 250], "nice": false, "zero": false},
              "axis": {
                "orient": "left", "title": "Elevation angle (deg)",
                "values": [-50, 0, 50, 100, 150, 200, 250],
                "tickSize": -21, "labelPadding": 66,
                "titleX": -238, "titleAngle": 270, "titleBaseline": "alphabetic"
              }
            },
            "color": {"field": "v", "type": "quantitative", "scale": {"scheme": "viridis", "domain": [-50, 0]}, "legend": null},
            "stroke": {"field": "v", "type": "quantitative", "scale": {"scheme": "viridis", "domain": [-50, 0]}, "legend": null}
          }
        },
        {
          "data": {"values": [
            {"f": 0, "f2": 200, "e": -30, "e2": 210, "v": -50},
            {"f": 18200, "f2": 23800, "e": -30, "e2": 210, "v": -50}
          ]},
          "mark": {"type": "rect", "strokeWidth": 1},
          "encoding": {
            "x": {
              "field": "f", "type": "quantitative",
              "axis": {"orient": "top", "labels": false, "title": null, "values": [0, 5000, 10000, 15000, 20000, 25000], "tickSize": -21}
            },
            "x2": {"field": "f2"},
            "y": {
              "field": "e", "type": "quantitative",
              "axis": {"orient": "right", "labels": false, "title": null, "values": [-50, 0, 50, 100, 150, 200, 250], "tickSize": -21}
            },
            "y2": {"field": "e2"},
            "color": {"field": "v", "type": "quantitative"},
            "stroke": {"field": "v", "type": "quantitative"}
          }
        }
      ],
      "resolve": {"axis": {"x": "independent", "y": "independent"}}
    },
    {
      "width": 162,
      "height": 2134,
      "data": {"values": [
        {"c": -50}, {"c": -49}, {"c": -48}, {"c": -47}, {"c": -46}, {"c": -45}, {"c": -44}, {"c": -43}, {"c": -42}, {"c": -41},
        {"c": -40}, {"c": -39}, {"c": -38}, {"c": -37}, {"c": -36}, {"c": -35}, {"c": -34}, {"c": -33}, {"c": -32}, {"c": -31},
        {"c": -30}, {"c": -29}, {"c": -28}, {"c": -27}, {"c": -26}, {"c": -25}, {"c": -24}, {"c": -23}, {"c": -22}, {"c": -21},
        {"c": -20}, {"c": -19}, {"c": -18}, {"c": -17}, {"c": -16}, {"c": -15}, {"c": -14}, {"c": -13}, {"c": -12}, {"c": -11},
        {"c": -10}, {"c": -9}, {"c": -8}, {"c": -7}, {"c": -6}, {"c": -5}, {"c": -4}, {"c": -3}, {"c": -2}, {"c": -1}
      ]},
      "layer": [
        {
          "mark": {"type": "rect", "binSpacing": 0, "strokeWidth": 1},
          "encoding": {
            "x": {"datum": 0, "type": "quantitative", "scale": {"domain": [0, 1], "nice": false, "zero": false}, "axis": null},
            "x2": {"datum": 1},
            "y": {
              "field": "c", "type": "quantitative",
              "bin": {"binned": true, "step": 1},
              "scale": {"domain": [-50, 0], "nice": false, "zero": false},
              "axis": {
                "orient": "right", "title": "dB re max",
                "values": [-50, -40, -30, -20, -10, 0],
                "tickSize": -20, "labelPadding": 67,
                "titleAngle": 270, "titleX": 276, "titleBaseline": "alphabetic"
              }
            },
            "color": {"field": "c", "type": "quantitative", "scale": {"scheme": "viridis", "domain": [-50, 0]}, "legend": null},
            "stroke": {"field": "c", "type": "quantitative", "scale": {"scheme": "viridis", "domain": [-50, 0]}, "legend": null}
          }
        },
        {
          "mark": {"type": "rect", "binSpacing": 0, "strokeWidth": 1},
          "encoding": {
            "x": {"datum": 0, "type": "quantitative", "axis": null},
            "x2": {"datum": 1},
            "y": {
              "field": "c", "type": "quantitative",
              "bin": {"binned": true, "step": 1},
              "axis": {"orient": "left", "labels": false, "title": null, "values": [-50, -40, -30, -20, -10, 0], "tickSize": -20}
            },
            "color": {"field": "c", "type": "quantitative"},
            "stroke": {"field": "c", "type": "quantitative"}
          }
        }
      ],
      "resolve": {"axis": {"y": "independent"}}
    }
  ]
}
